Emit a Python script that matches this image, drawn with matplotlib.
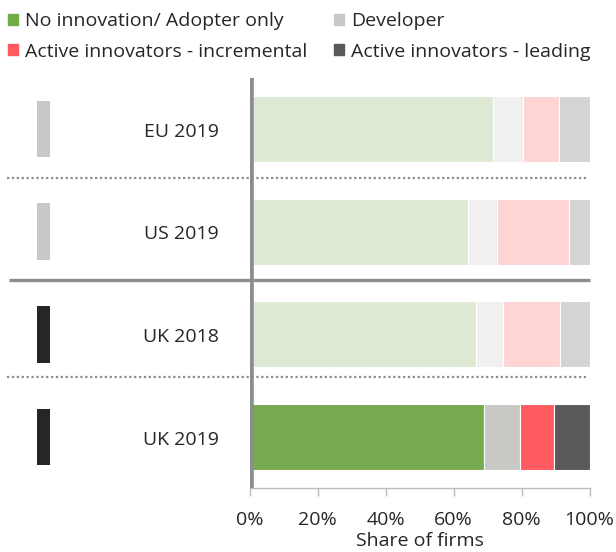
import matplotlib.pyplot as plt
from matplotlib.patches import Rectangle

plt.rcParams["font.family"] = ["Open Sans", "DejaVu Sans"]

W, H = 616, 552

groups = ["EU 2019", "US 2019", "UK 2018", "UK 2019"]
categories = ["No innovation/ Adopter only", "Developer",
              "Active innovators - incremental", "Active innovators - leading"]
no_innovation = [0.717, 0.643, 0.666, 0.691]
developer = [0.088, 0.085, 0.079, 0.105]
incremental = [0.106, 0.211, 0.168, 0.100]
leading = [0.089, 0.061, 0.087, 0.104]
highlight = [False, False, False, True]

full_colors = ["#75AA4F", "#C8C8C5", "#FF5A5F", "#59595B"]
faded_colors = ["#DDE9D3", "#F0F0F0", "#FFD4D5", "#D4D4D4"]
legend_colors = ["#70AD47", "#C8C8C8", "#FF5A5F", "#595959"]
marker_colors = ["#C8C8C8", "#C8C8C8", "#262626", "#262626"]
text_color = "#262626"
line_gray = "#8A8E91"
FS = 14

fig = plt.figure(figsize=(W / 100, H / 100), dpi=100)
ax = fig.add_axes([249.5 / W, 1 - 488.3 / H, 340 / W, 410.6 / H])
ax.set_xlim(0, 1)
ax.set_ylim(3.5, -0.5)

series = [no_innovation, developer, incremental, leading]
ypos = list(range(len(groups)))
for i, y in enumerate(ypos):
    left = 0
    for k, vals in enumerate(series):
        c = full_colors[k] if highlight[i] else faded_colors[k]
        ax.barh(y, vals[i], left=left, height=0.64, color=c,
                edgecolor="white", linewidth=0.8, zorder=2)
        left += vals[i]
    # small group marker on the far left
    ax.barh(y, 0.037, left=-0.624, height=0.55, color=marker_colors[i],
            clip_on=False, zorder=2)
    ax.text(-0.09, y + 0.075, groups[i], ha="right", va="baseline",
            fontsize=FS, color=text_color)

# separators
for ys in [0.48, 2.42]:
    ax.plot([-0.713, 0.99], [ys, ys], color="#8C8C8C", lw=1.6,
            linestyle=(0, (1, 1.2)), clip_on=False, zorder=1)
ax.plot([-0.707, 1.0], [1.47, 1.47], color=line_gray, lw=2.4,
        clip_on=False, zorder=3, solid_capstyle="butt")
ax.axvline(0, color=line_gray, lw=5.5, zorder=4)

for s in ["top", "right", "left"]:
    ax.spines[s].set_visible(False)
ax.spines["bottom"].set_color("#BBBBBB")
ax.spines["bottom"].set_linewidth(1)
ax.set_yticks([])
ax.set_xticks([0, 0.2, 0.4, 0.6, 0.8, 1.0])
ax.set_xticklabels(["0%", "20%", "40%", "60%", "80%", "100%"])
ax.tick_params(axis="x", length=6, width=1, color="#BBBBBB", pad=10,
               labelsize=FS, labelcolor=text_color)
fig.text(419.5 / W, 1 - 546 / H, "Share of firms", ha="center",
         va="baseline", fontsize=FS, color=text_color)

# legend, drawn by hand
leg_pos = [(25, 26.5), (351, 26.5), (25, 57), (351, 57)]
for (px, py), k in zip(leg_pos, range(4)):
    fig.patches.append(Rectangle(((px - 17.5) / W, 1 - (py - 2) / H),
                                 10.5 / W, 10.5 / H,
                                 transform=fig.transFigure,
                                 color=legend_colors[k]))
    fig.text(px / W, 1 - py / H, categories[k], ha="left",
             va="baseline", fontsize=FS, color=text_color)

fig.savefig("out.png", dpi=100)
